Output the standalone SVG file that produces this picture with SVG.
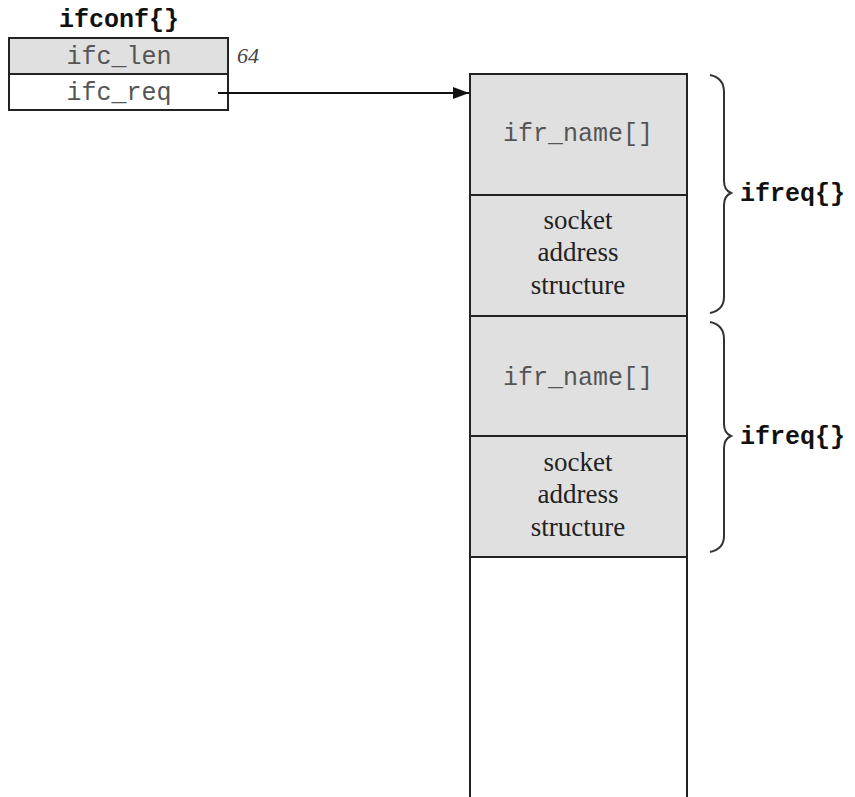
<svg xmlns="http://www.w3.org/2000/svg" width="855" height="797" viewBox="0 0 855 797">
<style>
.box{stroke:#222;stroke-width:2}
.gray{fill:#e0e0e0}
.white{fill:#fff}
.mono{font-family:"Liberation Mono","Courier New",monospace;font-size:25px;fill:#555;text-anchor:middle}
.bold{font-family:"Liberation Mono","Courier New",monospace;font-size:25px;font-weight:bold;fill:#111}
.serif{font-family:"Liberation Serif","Times New Roman",serif;font-size:27px;fill:#222;text-anchor:middle}
.brace{fill:none;stroke:#333;stroke-width:2}
</style>
<defs>
<marker id="ah" markerWidth="16" markerHeight="12" refX="16" refY="6" orient="auto" markerUnits="userSpaceOnUse">
<path d="M0,0 L16,6 L0,12 Z" fill="#111"/>
</marker>
</defs>
<rect width="855" height="797" fill="#fff"/>
<g id="ifconf">
<text class="bold" x="119" y="27" text-anchor="middle">ifconf{}</text>
<rect class="box gray" x="9" y="38" width="219" height="36"/>
<rect class="box white" x="9" y="74" width="219" height="36"/>
<text class="mono" x="119" y="64">ifc_len</text>
<text class="mono" x="119" y="100">ifc_req</text>
<text x="237" y="63" font-family="Liberation Serif,serif" font-style="italic" font-size="22" fill="#444">64</text>
</g>
<g id="ifreq-array">
<rect x="470" y="74" width="217" height="483" fill="#e0e0e0"/>
<path class="box" fill="none" d="M470,797 L470,74 L687,74 L687,797 M470,195 L687,195 M470,316 L687,316 M470,436 L687,436 M470,557 L687,557"/>
<text class="mono" x="578" y="141">ifr_name[]</text>
<text class="serif" x="578" y="229">socket</text>
<text class="serif" x="578" y="261">address</text>
<text class="serif" x="578" y="294">structure</text>
<text class="mono" x="578" y="385">ifr_name[]</text>
<text class="serif" x="578" y="471">socket</text>
<text class="serif" x="578" y="503">address</text>
<text class="serif" x="578" y="536">structure</text>
</g>
<g id="ifreq1">
<path class="brace" d="M710,75 Q724,78 724,92 L724,181 Q724,190 731,193 Q724,196 724,205 L724,297 Q724,310 710,313"/>
<text class="bold" x="740" y="201">ifreq{}</text>
</g>
<g id="ifreq2">
<path class="brace" d="M710,322 Q724,325 724,339 L724,424 Q724,433 731,436 Q724,439 724,448 L724,536 Q724,549 710,552"/>
<text class="bold" x="740" y="444">ifreq{}</text>
</g>
<g id="connectors">
<line x1="218" y1="93" x2="469" y2="93" stroke="#111" stroke-width="2" marker-end="url(#ah)"/>
</g>
</svg>
